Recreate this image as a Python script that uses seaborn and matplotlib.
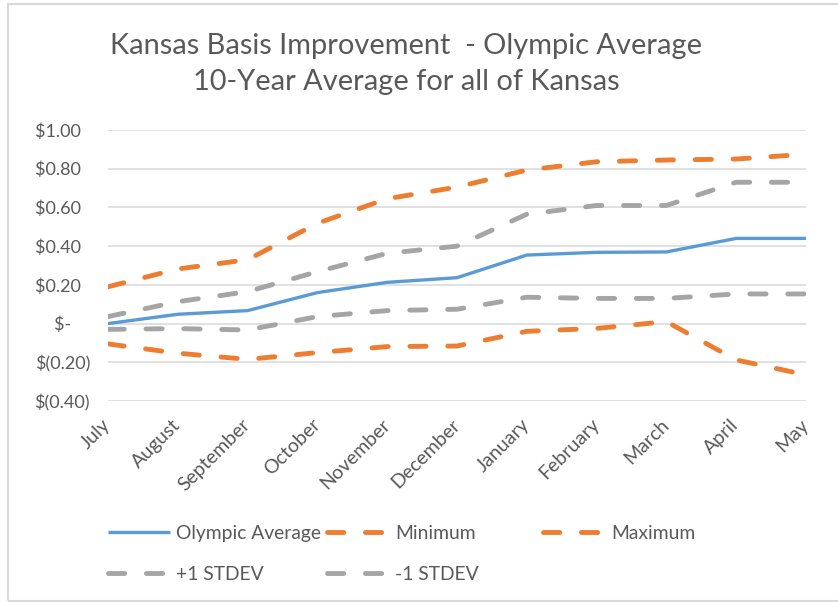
import pandas as pd
import numpy as np
import seaborn as sns
import matplotlib.pyplot as plt
from matplotlib.lines import Line2D
from matplotlib.patches import Rectangle

# Chart data
months = ['July', 'August', 'September', 'October', 'November', 'December',
          'January', 'February', 'March', 'April', 'May']
olympic_avg = [0.00, 0.048, 0.067, 0.16, 0.213, 0.237, 0.354, 0.368, 0.37, 0.44, 0.44]
minimum = [-0.105, -0.153, -0.185, -0.15, -0.119, -0.116, -0.04, -0.025, 0.01, -0.188, -0.265]
maximum = [0.19, 0.282, 0.33, 0.518, 0.645, 0.705, 0.793, 0.836, 0.845, 0.85, 0.875]
plus_1sd = [0.036, 0.113, 0.165, 0.268, 0.363, 0.40, 0.565, 0.61, 0.61, 0.73, 0.73]
minus_1sd = [-0.03, -0.026, -0.033, 0.036, 0.067, 0.074, 0.136, 0.13, 0.13, 0.153, 0.153]

y_ticks = [-0.4, -0.2, 0.0, 0.2, 0.4, 0.6, 0.8, 1.0]
y_tick_labels = ['$(0.40)', '$(0.20)', '$-    ', '$0.20  ', '$0.40  ', '$0.60  ', '$0.80  ', '$1.00  ']

title = 'Kansas Basis Improvement  - Olympic Average\n10-Year Average for all of Kansas'

sns.set_theme(style='white')
plt.rcParams['font.family'] = ['Lato', 'DejaVu Sans']
plt.rcParams['lines.scale_dashes'] = False

text_color = '#595959'
grid_color = '#D9D9D9'
blue = '#5B9BD5'
orange = '#ED7D31'
gray = '#A5A5A5'

W, H = 838, 602
fig = plt.figure(figsize=(W / 100, H / 100), dpi=100)
ax = fig.add_axes([108 / W, 1 - 401 / H, (806 - 108) / W, (401 - 130) / H])

df = pd.DataFrame({'month': months, 'Olympic Average': olympic_avg, 'Minimum': minimum,
                   'Maximum': maximum, '+1 STDEV': plus_1sd, '-1 STDEV': minus_1sd})
df['x'] = np.arange(len(months))

dash = (0, (11.7, 15.6))
series = [
    ('Olympic Average', blue, 2.4, '-'),
    ('Minimum', orange, 3.5, dash),
    ('Maximum', orange, 3.5, dash),
    ('+1 STDEV', gray, 3.5, dash),
    ('-1 STDEV', gray, 3.5, dash),
]

handles = {}
for name, color, lw, ls in series:
    sns.lineplot(data=df, x='x', y=name, ax=ax, color=color, lw=lw, linestyle=ls)
    line = ax.lines[-1]
    line.set_dash_capstyle('round')
    line.set_solid_capstyle('round')
    handles[name] = Line2D([], [], color=color, lw=lw, linestyle=ls,
                           dash_capstyle='round', solid_capstyle='butt')

ax.set_xlim(0, len(months) - 1)
ax.set_ylim(-0.4, 1.0)
ax.set_xlabel('')
ax.set_ylabel('')
ax.set_yticks(y_ticks)
ax.set_yticklabels(y_tick_labels)
ax.set_xticks(df['x'])
ax.set_xticklabels(months, rotation=45, ha='right', va='center', rotation_mode='anchor')
ax.tick_params(axis='x', length=0, pad=15, labelsize=14, labelcolor=text_color)
ax.tick_params(axis='y', length=0, pad=13, labelsize=13, labelcolor=text_color)
ax.grid(axis='y', color=grid_color, lw=1.1)
ax.set_axisbelow(True)
for s in ax.spines.values():
    s.set_visible(False)

fig.text(406 / W, 1 - 64 / H, title, ha='center', va='center', fontsize=20.9,
         color=text_color, linespacing=1.45)

# legend columns, one legend each so columns sit at the same spots as the original
cols = [(['Olympic Average', '+1 STDEV'], 108), (['Minimum', '-1 STDEV'], 327), (['Maximum'], 543)]
for names, x0 in cols:
    fig.legend([handles[n] for n in names], names, loc='upper left',
               bbox_to_anchor=(x0 / W, 1 - 525 / H), frameon=False, fontsize=13.9,
               labelcolor=text_color, handlelength=3.2, handletextpad=0.31,
               labelspacing=1.24, borderpad=0, borderaxespad=0)

fig.patches.append(Rectangle((8 / W, 1 - 601 / H), 1.0, (601 - 4) / H, transform=fig.transFigure,
                             fill=False, ec=grid_color, lw=1.5))

fig.savefig('out.png', dpi=100)
